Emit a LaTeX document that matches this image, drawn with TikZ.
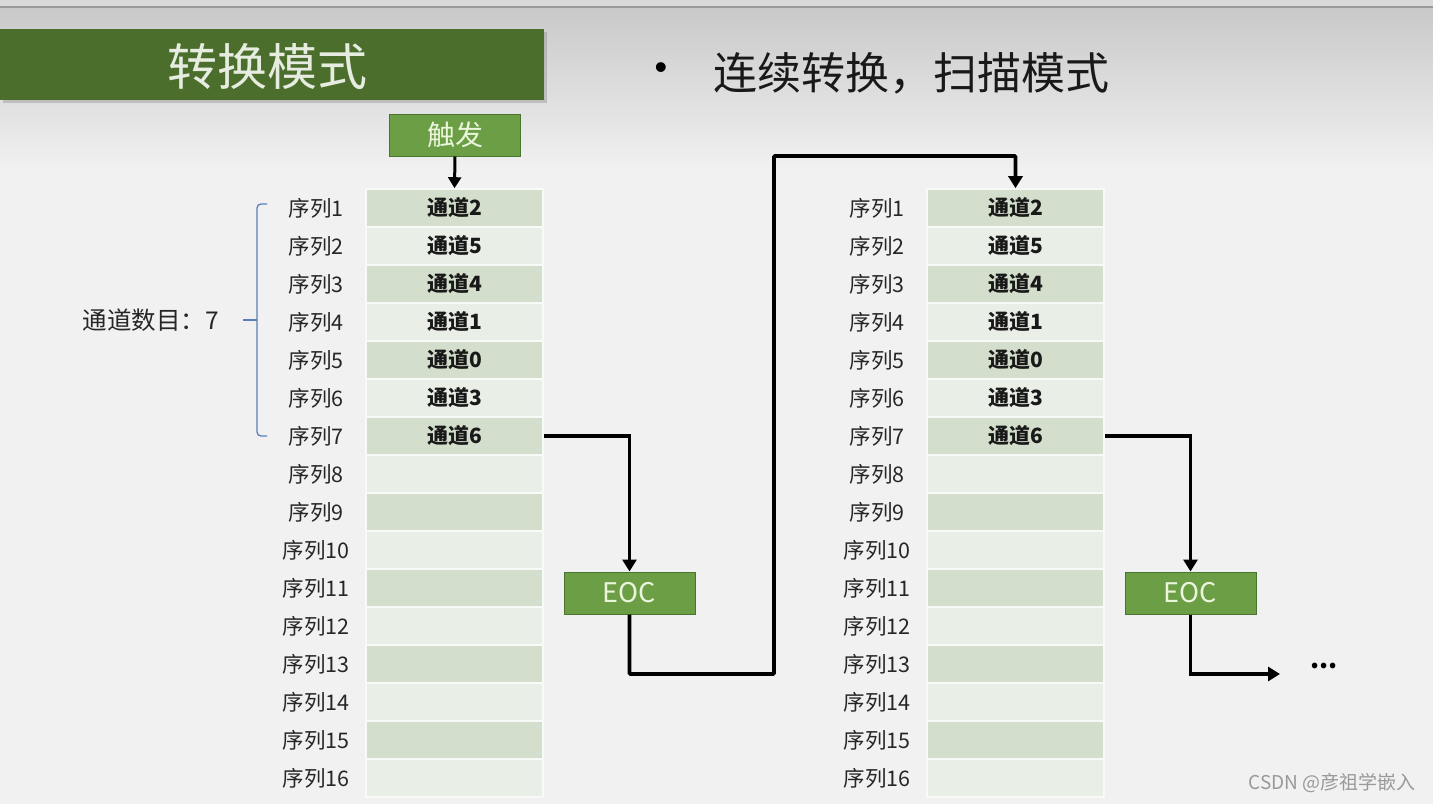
\documentclass[tikz,border=0pt]{standalone}
\usepackage{fontspec}
\setmainfont{Noto Sans CJK SC}
\newfontfamily\latinfont{Liberation Sans}
\usetikzlibrary{arrows.meta,shadows}
\definecolor{bgc}{HTML}{F1F1F1}
\definecolor{topc}{HTML}{C9C9C9}
\definecolor{titlegreen}{HTML}{4B6E2D}
\definecolor{titletext}{HTML}{E6ECDF}
\definecolor{boxgreen}{HTML}{6B9E45}
\definecolor{boxedge}{HTML}{4A7430}
\definecolor{boxtext}{HTML}{EAF5DC}
\definecolor{celldark}{HTML}{D3DFCC}
\definecolor{celllight}{HTML}{E9EFE7}
\definecolor{bracec}{HTML}{5B7DB8}
\tikzset{
  cell/.style={rectangle,minimum width=177pt,minimum height=38pt,inner sep=0pt,draw=white!70!celllight,line width=1.6pt},
  seqlabel/.style={font=\fontsize{21.5}{24}\selectfont,text=black!85,inner sep=0pt},
  chan/.style={font=\bfseries\fontsize{21}{24}\selectfont,text=black!90,inner sep=0pt},
  gbox/.style={rectangle,fill=boxgreen,draw=boxedge,line width=1pt,minimum width=131pt,minimum height=42pt,inner sep=0pt,text=boxtext},
  conn/.style={line width=3.6pt,draw=black,-{Triangle[length=12pt,width=14pt]}},
}
\begin{document}
\begin{tikzpicture}[x=1pt,y=-1pt]
\useasboundingbox (0,0) rectangle (1433,804);
% background
\fill[bgc] (0,0) rectangle (1433,804);
\shade[top color=topc,bottom color=bgc] (0,8) rectangle (1433,170);
\fill[black!15] (0,0) rectangle (1433,6);
\draw[black!40,line width=1.5pt] (0,7) -- (1433,7);
% title
\node[rectangle,fill=titlegreen,minimum width=544pt,minimum height=71pt,inner sep=0pt,anchor=north west,
  drop shadow={shadow xshift=3pt,shadow yshift=-3pt,opacity=0.35}] (title) at (0,29) {};
\node[text=titletext,font=\fontsize{50}{58}\selectfont] (titletext) at (267,66) {转换模式};
% bullet
\node[font=\latinfont\fontsize{36}{40}\selectfont] (bullet) at (661,71) {•};
\node[anchor=west,font=\fontsize{44}{50}\selectfont,text=black!90] (subtitle) at (710,73) {连续转换，扫描模式};
% trigger
\node[gbox,font=\fontsize{28}{32}\selectfont] (trig) at (455,135) {触发};
% tables
\foreach \i in {1,...,16}{
  \pgfmathtruncatemacro\yy{208+(\i-1)*38}
  \pgfmathtruncatemacro\od{mod(\i,2)}
  \ifnum\od=1 \def\cc{celldark}\else\def\cc{celllight}\fi
  \node[cell,fill=\cc] (L\i) at (454.5,\yy) {};
  \node[cell,fill=\cc] (R\i) at (1015.5,\yy) {};
  \node[seqlabel] (LS\i) at (316,\yy) {序列\i};
  \node[seqlabel] (RS\i) at (877,\yy) {序列\i};
}
\foreach \i/\c in {1/2,2/5,3/4,4/1,5/0,6/3,7/6}{
  \node[chan] (LC\i) at (L\i) {通道\c};
  \node[chan] (RC\i) at (R\i) {通道\c};
}
% brace
\draw[bracec,line width=1.3pt,rounded corners=4pt] (267,204) -- (257,204) -- (257,436) -- (267,436);
\draw[bracec,line width=1.3pt] (243,320) -- (257,320);
\node[seqlabel,font=\fontsize{24.5}{28}\selectfont,anchor=east] (count) at (219,320) {通道数目：7};
% EOC boxes
\node[gbox,font=\fontsize{27}{30}\selectfont] (eoc1) at (629.5,593) {EOC};
\node[gbox,font=\fontsize{27}{30}\selectfont] (eoc2) at (1190.5,593) {EOC};
% connectors
\coordinate (j1) at (774,674);
\coordinate (j2) at (774,156);
\coordinate (endp) at (1280,674);
\draw[line width=3pt,-{Triangle[length=11pt,width=13pt]}] (trig.south) -- (L1.north);
\draw[conn] (L7.east) -| (eoc1.north);
\draw[conn,rounded corners=1pt] (eoc1.south) |- (j1) -- (j2) -| (R1.north);
\draw[conn] (R7.east) -| (eoc2.north);
\draw[conn] (eoc2.south) |- (endp);
\node[font=\bfseries\fontsize{26}{28}\selectfont] (dots) at (1324,666) {...};
% watermark
\node[font=\fontsize{19}{22}\selectfont,text=black!40] (wm) at (1332,783) {CSDN @彦祖学嵌入};
\end{tikzpicture}
\end{document}
